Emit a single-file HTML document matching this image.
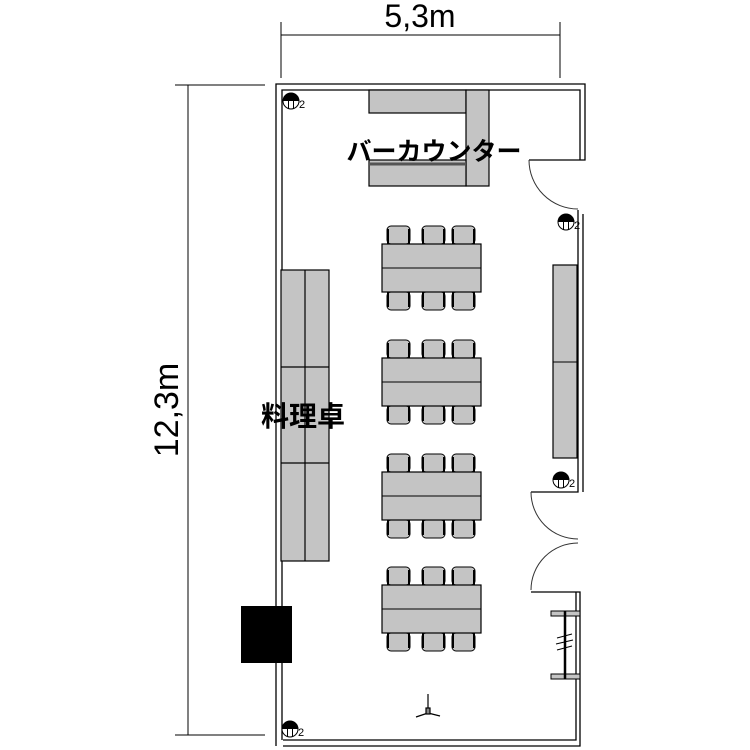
<!DOCTYPE html>
<html><head><meta charset="utf-8"><style>html,body{margin:0;padding:0;background:#fff}svg{display:block}</style></head>
<body>
<svg width="750" height="750" viewBox="0 0 750 750" xmlns="http://www.w3.org/2000/svg" font-family="Liberation Sans, Noto Sans CJK JP, sans-serif">
<g stroke="#000" stroke-width="1" fill="none">
<line x1="281" y1="35" x2="560" y2="35"/>
<line x1="281" y1="22" x2="281" y2="78"/>
<line x1="560" y1="22" x2="560" y2="78"/>
<line x1="188" y1="85" x2="188" y2="735"/>
<line x1="175" y1="85" x2="265" y2="85"/>
<line x1="175" y1="735" x2="265" y2="735"/>
</g>
<text x="420" y="27" font-size="32" text-anchor="middle">5,3m</text>
<text transform="translate(178,410) rotate(-90)" font-size="34" text-anchor="middle">12,3m</text>
<g stroke="#000" stroke-width="1.3" fill="none">
<path d="M276,746 L276,84 L585,84 L585,160 L529,160"/>
<path d="M282,740 L282,90 L580,90 L580,160"/>
<path d="M578,210 L578,492 L531,492"/>
<path d="M583,214 L583,492"/>
<path d="M531,592 L580,592 L580,746 L283,746"/>
<path d="M283,740 L576,740 L576,592"/>
</g>
<g stroke="#333" stroke-width="1" fill="none">
<path d="M529,160 A49,49 0 0 0 578,209"/>
<path d="M531,492 A47,47 0 0 0 578,539"/>
<path d="M578,543 A47,47 0 0 0 531,590"/>
</g>
<g fill="#c4c4c4" stroke="#000" stroke-width="1.2">
<rect x="369" y="90" width="97" height="23"/>
<rect x="466" y="90" width="23" height="96"/>
<rect x="369" y="160" width="97" height="26"/>
</g>
<line x1="369" y1="164" x2="466" y2="164" stroke="#555" stroke-width="3"/>
<text x="434" y="160" font-size="25" font-weight="bold" text-anchor="middle">バーカウンター</text>
<g fill="#c4c4c4" stroke="#000" stroke-width="1.2">
<rect x="281" y="270" width="48" height="291"/>
</g>
<g stroke="#000" stroke-width="1.2">
<line x1="305" y1="270" x2="305" y2="561"/>
<line x1="281" y1="367" x2="329" y2="367"/>
<line x1="281" y1="463" x2="329" y2="463"/>
</g>
<text x="303" y="426" font-size="28" font-weight="bold" text-anchor="middle">料理卓</text>
<rect x="553" y="265" width="24" height="193" fill="#c4c4c4" stroke="#000" stroke-width="1.2"/>
<line x1="553" y1="362" x2="577" y2="362" stroke="#000"/>
<rect x="241" y="606" width="51" height="57" fill="#000"/>
<defs>
<g id="chairT"><rect x="0" y="0" width="23" height="18" rx="4" fill="#c4c4c4" stroke="#000" stroke-width="1"/><line x1="1" y1="3" x2="1" y2="18" stroke="#000" stroke-width="2"/><line x1="22" y1="3" x2="22" y2="18" stroke="#000" stroke-width="2"/></g>
<g id="tbl">
<use href="#chairT" x="387" y="-18"/><use href="#chairT" x="422" y="-18"/><use href="#chairT" x="452" y="-18"/>
<use href="#chairT" transform="translate(0,48) scale(1,-1) translate(0,-18)" x="387"/>
<use href="#chairT" transform="translate(0,48) scale(1,-1) translate(0,-18)" x="422"/>
<use href="#chairT" transform="translate(0,48) scale(1,-1) translate(0,-18)" x="452"/>
<rect x="382" y="0" width="99" height="48" fill="#c4c4c4" stroke="#000" stroke-width="1.2"/>
<line x1="382" y1="24" x2="481" y2="24" stroke="#000" stroke-width="1"/>
</g>
<g id="outlet"><circle cx="0" cy="0" r="8" fill="#fff" stroke="#000"/><path d="M-8,0 A8,8 0 0 1 8,0 Z" fill="#000"/><line x1="-2.5" y1="0" x2="-2.5" y2="8" stroke="#000"/><line x1="2.5" y1="0" x2="2.5" y2="8" stroke="#000"/><text x="8" y="7" font-size="11">2</text></g>
</defs>
<use href="#tbl" y="244"/>
<use href="#tbl" y="358"/>
<use href="#tbl" y="472"/>
<use href="#tbl" y="585"/>
<use href="#outlet" x="291" y="101"/>
<use href="#outlet" x="566" y="222"/>
<use href="#outlet" x="561" y="480"/>
<use href="#outlet" x="290" y="729"/>
<g fill="#c4c4c4" stroke="#000">
<rect x="551" y="611" width="29" height="5"/>
<rect x="551" y="674" width="29" height="5"/>
</g>
<line x1="565" y1="611" x2="565" y2="679" stroke="#000" stroke-width="2.5"/>
<g stroke="#000" stroke-width="1"><line x1="557" y1="638" x2="572" y2="634"/><line x1="556" y1="644" x2="573" y2="640"/><line x1="557" y1="650" x2="572" y2="646"/></g>
<g stroke="#000" stroke-width="1.2" fill="none">
<line x1="428" y1="694" x2="428" y2="713"/>
<line x1="428" y1="713" x2="416" y2="717"/>
<line x1="428" y1="713" x2="440" y2="716"/>
<rect x="426" y="708" width="4" height="6" fill="#888"/>
</g>
</svg>
</body></html>
